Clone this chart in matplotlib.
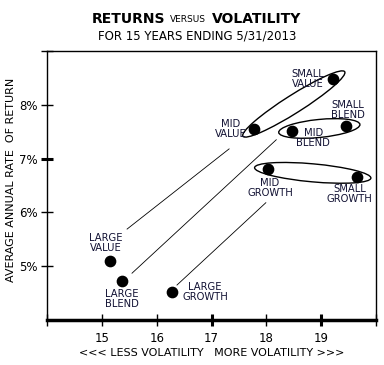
import numpy as np
import matplotlib
matplotlib.use("Agg")
import matplotlib.pyplot as plt
from matplotlib.patches import Ellipse

# data
names = ["LARGE\nVALUE", "LARGE\nBLEND", "LARGE\nGROWTH",
         "MID\nVALUE", "MID\nBLEND", "MID\nGROWTH",
         "SMALL\nVALUE", "SMALL\nBLEND", "SMALL\nGROWTH"]
volatility = [15.15, 15.37, 16.28, 17.78, 18.47, 18.03, 19.22, 19.46, 19.66]
returns = [5.10, 4.72, 4.52, 7.55, 7.51, 6.81, 8.48, 7.61, 6.66]

x_ticks = [14, 15, 16, 17, 18, 19, 20]
x_labels = ["", "15", "16", "17", "18", "19", ""]
y_ticks = [5, 6, 7, 8, 9]
y_labels = ["5%", "6%", "7%", "8%", ""]

# label offsets in pixels (dx, dy)
label_pos = [(-4, 18), (0, -18), (33, 0), (-24, 0), (21, -7),
             (2, -19), (-26, 0), (1, 16), (-8, -17)]

# groups circled by ellipses (index pairs) and leader lines
groups = [(3, 6), (4, 7), (5, 8)]
leaders = [((15.46, 5.69), (17.32, 7.18)),
           ((15.55, 4.87), (18.18, 7.35)),
           ((16.37, 4.65), (17.99, 6.18))]

plt.rcParams['font.family'] = ['DejaVu Sans']
fig = plt.figure(figsize=(3.84, 3.65), dpi=100)
ax = fig.add_axes([0.1224, 0.1233, 0.857, 0.737])
ax.set_xlim(14, 20)
ax.set_ylim(4, 9)

ax.scatter(volatility, returns, s=55, color='black', zorder=3)

for name, x, y, (dx, dy) in zip(names, volatility, returns, label_pos):
    ax.annotate(name, (x, y), xytext=(dx, dy), textcoords='offset pixels',
                ha='center', va='center', fontsize=7.2, linespacing=1.0,
                color='#111133')

# ellipses drawn in pixel space around each group
for i, j in groups:
    p1 = ax.transData.transform((volatility[i], returns[i]))
    p2 = ax.transData.transform((volatility[j], returns[j]))
    c = (p1 + p2) / 2
    d = p2 - p1
    length = np.hypot(d[0], d[1]) + 27
    ang = np.degrees(np.arctan2(d[1], d[0]))
    e = Ellipse(c, length, 18, angle=ang, fill=False, lw=1.0,
                color='black', transform=None)
    ax.add_artist(e)

for (a, b) in leaders:
    ax.plot([a[0], b[0]], [a[1], b[1]], color='black', lw=0.6)

ax.set_xticks(x_ticks)
ax.set_xticklabels(x_labels)
ax.set_yticks(y_ticks)
ax.set_yticklabels(y_labels)
ax.tick_params(axis='both', direction='inout', length=8, width=1.0,
               labelsize=8.5, colors='black')
ax.tick_params(axis='x', pad=5)
ax.tick_params(axis='y', pad=3)
for t in ax.xaxis.get_major_ticks():
    if t.get_loc() in (17, 19):
        t.tick1line.set_markeredgewidth(2.2)
for t in ax.yaxis.get_major_ticks():
    if t.get_loc() == 7:
        t.tick1line.set_markeredgewidth(2.2)

ax.spines['bottom'].set_linewidth(2.5)
for s in ['top', 'left', 'right']:
    ax.spines[s].set_linewidth(1.0)

ax.set_xlabel("<<< LESS VOLATILITY   MORE VOLATILITY >>>", fontsize=8,
              labelpad=2)
ax.set_ylabel("AVERAGE ANNUAL RATE  OF RETURN", fontsize=8)
ax.yaxis.set_label_coords(-0.095, 0.52)

fig.text(165 / 384, 1 - 19 / 365, "RETURNS", ha='right', va='center',
         fontsize=10, fontweight='bold')
fig.text(188 / 384, 1 - 20 / 365, "VERSUS", ha='center', va='center',
         fontsize=6.5)
fig.text(212 / 384, 1 - 19 / 365, "VOLATILITY", ha='left', va='center',
         fontsize=10, fontweight='bold')
fig.text(197 / 384, 1 - 36 / 365, "FOR 15 YEARS ENDING 5/31/2013",
         ha='center', va='center', fontsize=8.5)

fig.savefig("out.png", dpi=100)
